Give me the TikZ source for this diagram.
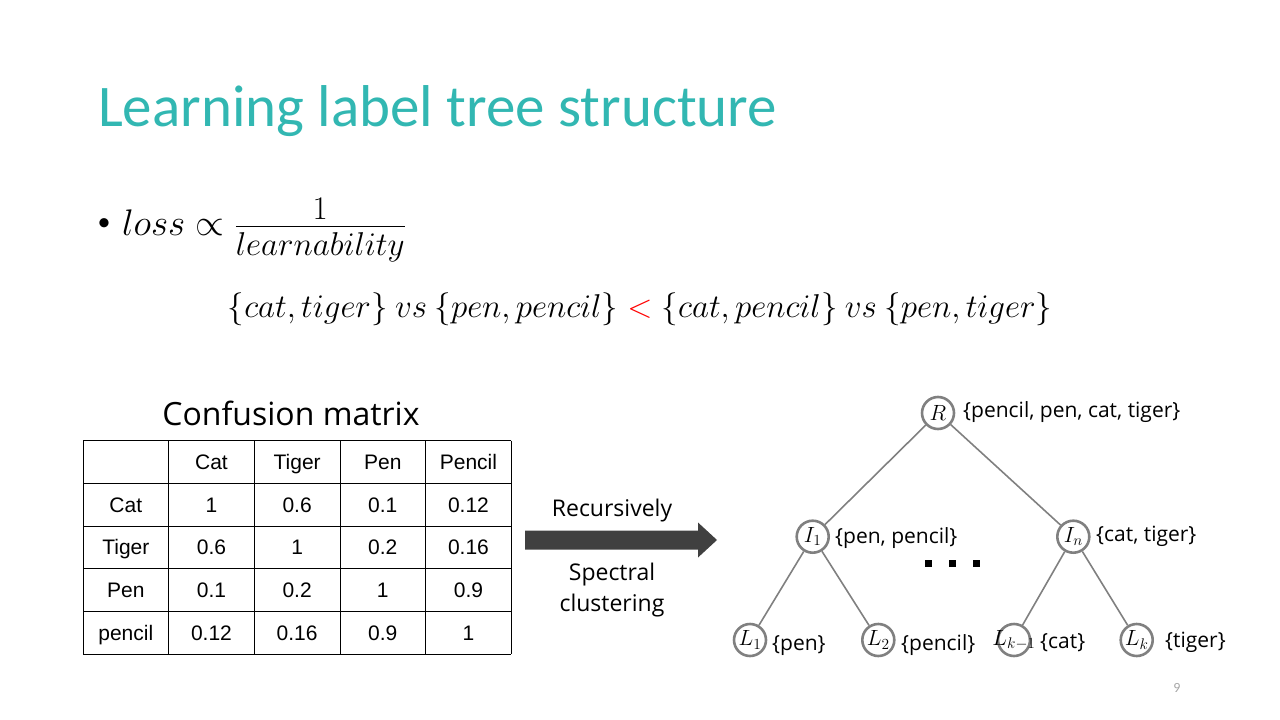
\RequirePackage{fix-cm}
\documentclass[tikz,border=0pt]{standalone}
\usepackage{fontspec}
\setmainfont{Carlito}
\newfontfamily\tablefont{Liberation Sans}
\newfontfamily\labelfont{Open Sans}
\DeclareMathSizes{37}{37}{33}{24}
\DeclareMathSizes{33}{33}{24}{18}

\definecolor{titleteal}{RGB}{50,183,178}
\definecolor{nodegray}{RGB}{128,128,128}
\definecolor{arrowgray}{RGB}{64,64,64}

\begin{document}
\begin{tikzpicture}[
    x=1pt, y=-1pt,
    title/.style={font=\fontsize{59}{70}\selectfont, text=titleteal, anchor=base west, inner sep=0},
    bigmath/.style={font=\fontsize{37}{44}\selectfont, inner sep=0},
    cell/.style={font=\tablefont\fontsize{21}{25}\selectfont, anchor=base, inner sep=0},
    tnode/.style={circle, draw=nodegray, line width=2.6pt, minimum size=32pt, inner sep=0,
        fill=white, font=\fontsize{22}{26}\selectfont},
    setlbl/.style={font=\labelfont\fontsize{21}{25}\selectfont, anchor=base west, inner sep=0},
    arrowlbl/.style={font=\labelfont\fontsize{23}{28}\selectfont, anchor=base, inner sep=0},
    edge/.style={draw=nodegray, line width=1.6pt},
]
\useasboundingbox (0,0) rectangle (1280,720);

% === Title and formulas ===
\node[title] (title) at (98,126) {Learning label tree structure};
\node[font=\fontsize{26}{30}\selectfont, inner sep=0] (bullet) at (104,225) {\textbullet};
\node[bigmath, anchor=base west] (loss) at (122,235)
    {$loss \propto \frac{1\rule[-6pt]{0pt}{0pt}}{\rule{0pt}{29pt}learnability}$};
\node[bigmath, font=\fontsize{33}{40}\selectfont, anchor=base] (order) at (640,317)
    {$\{cat, tiger\}\ vs\ \{pen, pencil\} \mathrel{\color{red}<} \{cat, pencil\}\ vs\ \{pen, tiger\}$};

% === Confusion matrix ===
\def\tabL{83}
\def\tabT{440.7}
\def\colW{85.66}
\def\rowH{42.7}

\node[font=\labelfont\fontsize{32}{38}\selectfont, anchor=base, inner sep=0] (cmtitle) at (291,425) {Confusion matrix};

% grid lines
\foreach \i in {0,...,5} {
    \draw[line width=0.8pt] ({\tabL+\i*\colW},\tabT) -- ({\tabL+\i*\colW},{\tabT+5*\rowH});
    \draw[line width=0.8pt] (\tabL,{\tabT+\i*\rowH}) -- ({\tabL+5*\colW},{\tabT+\i*\rowH});
}

% cell entries
\foreach \r/\rowtxt in {0/{,Cat,Tiger,Pen,Pencil},
                        1/{Cat,1,0.6,0.1,0.12},
                        2/{Tiger,0.6,1,0.2,0.16},
                        3/{Pen,0.1,0.2,1,0.9},
                        4/{pencil,0.12,0.16,0.9,1}} {
    \foreach \t [count=\c from 0] in \rowtxt {
        \node[cell] (cell-\r-\c) at ({\tabL+(\c+0.5)*\colW},{\tabT+(\r+0.5)*\rowH+7.5}) {\t};
    }
}

% === Block arrow ===
\coordinate (arrowL) at (525,540);
\fill[arrowgray] (arrowL) ++(0,-9.5) -- ++(173,0) -- ++(0,-8) -- (717,540)
    -- (698,557.5) -- ++(0,-8) -- ++(-173,0) -- cycle;
\node[arrowlbl] (recur) at (612,516) {Recursively};
\node[arrowlbl] (spectral) at (612,580) {Spectral};
\node[arrowlbl] (clustering) at (612,611) {clustering};

% === Label tree ===
\node[tnode] (R) at (938,413) {$R$};
\node[tnode] (I1) at (812.7,536.7) {$I_1$};
\node[tnode] (In) at (1073.3,536.7) {$I_n$};
\node[tnode] (L1) at (750,640) {$L_1$};
\node[tnode] (L2) at (878.3,640) {$L_2$};
\node[tnode, label={[font=\fontsize{22}{26}\selectfont]center:$L_{k-1}$}] (Lkm) at (1014,640) {};
\node[tnode] (Lk) at (1136.7,640) {$L_k$};

\draw[edge] (R) -- (I1);
\draw[edge] (R) -- (In);
\draw[edge] (I1) -- (L1);
\draw[edge] (I1) -- (L2);
\draw[edge] (In) -- (Lkm);
\draw[edge] (In) -- (Lk);

% label sets
\node[setlbl] (setR) at (963,417) {\{pencil, pen, cat, tiger\}};
\node[setlbl] (setI1) at (835,543) {\{pen, pencil\}};
\node[setlbl] (setIn) at (1096,541) {\{cat, tiger\}};
\node[setlbl] (setL1) at (772,650) {\{pen\}};
\node[setlbl] (setL2) at (901,650) {\{pencil\}};
\node[setlbl] (setLkm) at (1040,648) {\{cat\}};
\node[setlbl] (setLk) at (1165,647) {\{tiger\}};

% dots between subtrees
\foreach \dx in {928.3,952.3,976.7}
    \fill (\dx-3.5,559.8) rectangle ++(7,7);

% page number
\node[font=\fontsize{14}{17}\selectfont, text=gray!70, anchor=base] (page) at (1177,692) {9};

\end{tikzpicture}
\end{document}
